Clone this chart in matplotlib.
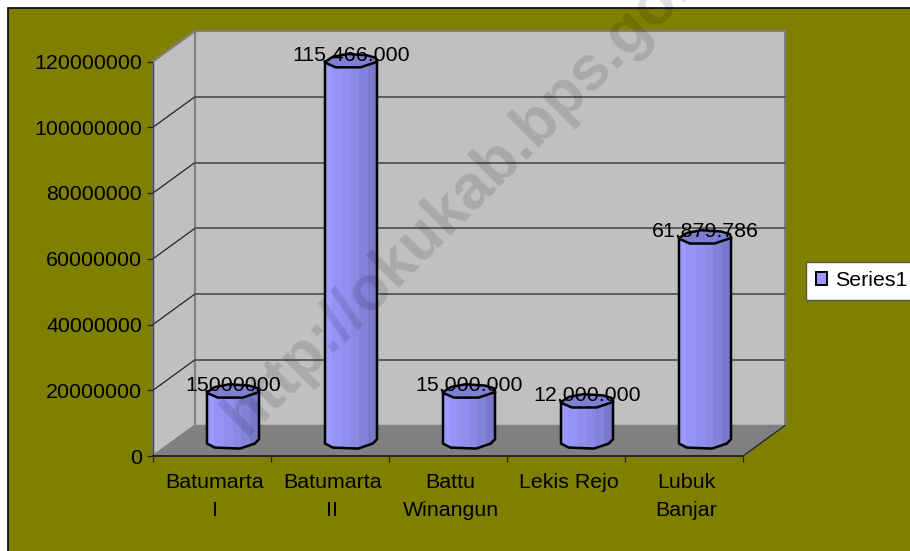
import matplotlib
matplotlib.use("Agg")
import matplotlib.pyplot as plt
from matplotlib.patches import Polygon, Rectangle, Patch
from matplotlib.transforms import ScaledTranslation

plt.rcParams['font.family'] = ['Liberation Sans', 'DejaVu Sans']

categories = ["Batumarta\nI", "Batumarta\nII", "Battu\nWinangun", "Lekis Rejo", "Lubuk\nBanjar"]
values = [15000000, 115466000, 15000000, 12000000, 61879786]
value_labels = ["15000000", "115.466.000", "15.000.000", "12.000.000", "61.879.786"]
y_ticks = [0, 20000000, 40000000, 60000000, 80000000, 100000000, 120000000]
series_name = "Series1"

OLIVE = "#808000"
WALL = "#C0C0C0"
FLOOR = "#808080"

# depth of the fake 3d box, in data units
DX = 42 / 118
DY = 30.5 / 394.5 * 120000000
HALF_W = 26 / 118
HALF_H = 6.5 / 394.5 * 120000000

# rough octagon of the cylinder, unit shape
TOP_SHAPE = [(-1, -.1), (-.7, .67), (-.14, 1.1), (.62, .9), (.95, .5), (1, -.1),
             (.37, -.95), (-.58, -.95), (-.96, -.3)]
BOTTOM_SHAPE = [(1, .24), (.84, -.43), (.27, -1.2), (-.7, -1.05), (-1, -.43)]
FACET_EDGES = [-1, -.72, -.35, 0, .3, .65, 1]
FACET_COLORS = ["#9B9BFF", "#9494F8", "#8F8FEE", "#8A8AE6", "#8282DA", "#7878CC"]


def draw_box(ax):
    side = [(0, 0), (0, y_ticks[-1]), (DX, y_ticks[-1] + DY), (DX, DY)]
    ax.add_patch(Polygon(side, fc=WALL, ec=FLOOR, lw=1.5, clip_on=False, zorder=1))
    ax.add_patch(Rectangle((DX, DY), 5, y_ticks[-1], fc=WALL, ec=FLOOR, lw=1.5, clip_on=False, zorder=1))
    floor = [(0, 0), (DX, DY), (5 + DX, DY), (5, 0)]
    ax.add_patch(Polygon(floor, fc=FLOOR, ec=FLOOR, lw=1, clip_on=False, zorder=1.5))
    for tick in y_ticks[1:-1]:
        ax.plot([0, DX], [tick, tick + DY], color="#222222", lw=0.9, clip_on=False, zorder=2)
        ax.plot([DX, 5 + DX], [tick + DY, tick + DY], color="#555555", lw=1.3, clip_on=False, zorder=2)
    ax.plot([5, 5 + DX], [0, DY], color="#222222", lw=0.9, clip_on=False, zorder=2)


def draw_cylinder(ax, i, value, label):
    cx = i + 0.5 + DX / 2
    base = DY / 2
    top = base + value
    top_pts = [(cx + a * HALF_W, top + b * HALF_H) for a, b in TOP_SHAPE]
    body_pts = [(cx - HALF_W, top), (cx + HALF_W, top)]
    body_pts += [(cx + a * HALF_W, base + b * HALF_H) for a, b in BOTTOM_SHAPE]
    outline = Polygon(body_pts, fc="none", ec="black", lw=1.8, clip_on=False, zorder=4)
    ax.add_patch(outline)
    for k, color in enumerate(FACET_COLORS):
        x0 = cx + FACET_EDGES[k] * HALF_W
        w = (FACET_EDGES[k + 1] - FACET_EDGES[k]) * HALF_W
        facet = Rectangle((x0, base - 2 * HALF_H), w, value + 2 * HALF_H, fc=color, ec="none", zorder=3)
        ax.add_patch(facet)
        facet.set_clip_path(outline)
    ax.add_patch(Polygon(top_pts, fc="#7F7FD2", ec="black", lw=1.8, clip_on=False, zorder=5))
    ax.annotate(label, (cx, top), xytext=(0, 4.2), textcoords="offset points", ha="center", va="center",
                fontsize=15.4, color="black", annotation_clip=False, zorder=6)


def main():
    fig = plt.figure(figsize=(9.10, 5.51), dpi=100, facecolor="white")
    fig.patches.append(Rectangle((8 / 910, -0.1), 1, 1.1 - 8 / 551, transform=fig.transFigure,
                                 fc=OLIVE, ec="black", lw=1.2, zorder=-1))

    ax = fig.add_axes([153 / 910, (551 - 456) / 551, 590 / 910, 394.5 / 551])
    ax.patch.set_visible(False)
    ax.set_xlim(0, 5)
    ax.set_ylim(0, y_ticks[-1])

    draw_box(ax)
    for i in range(len(values)):
        draw_cylinder(ax, i, values[i], value_labels[i])

    ax.set_yticks(y_ticks)
    ax.set_yticklabels([str(t) for t in y_ticks])
    ax.set_xticks(range(6))
    ax.set_xticklabels([])
    ax.set_xticks([i + 0.5 for i in range(5)], minor=True)
    ax.set_xticklabels(categories, minor=True, linespacing=1.62)
    ax.tick_params(axis="both", which="major", direction="out", length=4.3, width=0.9, color="#222222",
                   labelsize=15.4)
    ax.tick_params(axis="y", which="major", pad=3.5)
    ax.tick_params(axis="x", which="minor", length=0, labelsize=15.4, pad=12)
    shift = ScaledTranslation(2.5 / 100, 0, fig.dpi_scale_trans)
    for lab in ax.get_xticklabels(minor=True):
        lab.set_transform(lab.get_transform() + shift)
    for name in ["top", "right"]:
        ax.spines[name].set_visible(False)
    ax.spines["left"].set_color("#444444")
    ax.spines["left"].set_linewidth(1)
    ax.spines["left"].set_zorder(2.5)
    ax.spines["bottom"].set_color("#222222")
    ax.spines["bottom"].set_linewidth(1.4)
    ax.spines["bottom"].set_zorder(2.5)

    handle = Patch(fc="#9999FF", ec="black", lw=1.4, label=series_name)
    leg = fig.legend(handles=[handle], loc="center left", bbox_to_anchor=(806 / 910, 1 - 281 / 551),
                     fontsize=15.4, frameon=True, fancybox=False, framealpha=1, edgecolor="#555555",
                     borderaxespad=0, borderpad=0.45, handlelength=0.55, handleheight=0.55,
                     handletextpad=0.35)
    leg.get_frame().set_linewidth(1)

    fig.text(245 / 910, 1 - 437 / 551, "http://okukab.bps.go.id", rotation=45, rotation_mode="anchor",
             ha="left", va="baseline", fontsize=45, fontweight="bold", color="black", alpha=0.12, zorder=10)

    fig.savefig("out.png", dpi=100, facecolor="white")


if __name__ == "__main__":
    main()
